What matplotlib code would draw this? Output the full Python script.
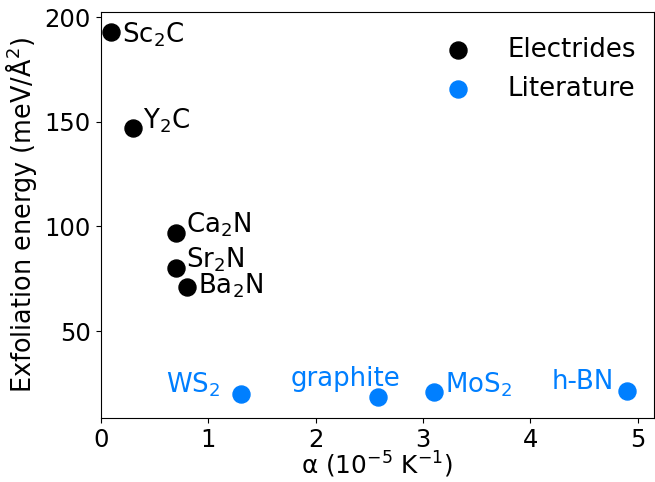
import numpy as np
import matplotlib
matplotlib.use("Agg")
import matplotlib.pyplot as plt

# Data
electride_names = ["Sc$_2$C", "Y$_2$C", "Ca$_2$N", "Sr$_2$N", "Ba$_2$N"]
electride_alpha = [0.10, 0.30, 0.70, 0.70, 0.80]
electride_energy = [192.9, 147.0, 96.7, 80.3, 70.9]

lit_names = ["WS$_2$", "graphite", "MoS$_2$", "h-BN"]
lit_alpha = [1.31, 2.58, 3.10, 4.90]
lit_energy = [19.9, 18.3, 20.7, 21.3]

blue = "#007FFF"
fs_tick = 17.5
fs_text = 18.7
fs_label = 18.4

# label offsets in points (dx, dy) and alignment
el_offsets = [(7.5, -7.5), (7, 0), (7.5, 0.5), (7.5, 0), (8, -4.5)]
lit_offsets = [(-15, 1), (16.3, 8), (8, 0), (-9.5, 1.2)]
lit_ha = ["right", "right", "left", "right"]

fig = plt.figure(figsize=(6.55, 4.82), dpi=100)
ax = fig.add_axes([100.7 / 655, 1 - 418.3 / 482, (654 - 100.7) / 655, (418.3 - 12.3) / 482])

ax.scatter(electride_alpha, electride_energy, s=150, color="black", label="Electrides", zorder=3)
ax.scatter(lit_alpha, lit_energy, s=150, color=blue, label="Literature", zorder=3)

for name, x, y, off in zip(electride_names, electride_alpha, electride_energy, el_offsets):
    ax.annotate(name, (x, y), xytext=off, textcoords="offset points",
                fontsize=fs_text, color="black", ha="left", va="baseline")

for name, x, y, off, ha in zip(lit_names, lit_alpha, lit_energy, lit_offsets, lit_ha):
    ax.annotate(name, (x, y), xytext=off, textcoords="offset points",
                fontsize=fs_text, color=blue, ha=ha, va="baseline")

ax.set_xlim(0, 5.15)
ax.set_ylim(8.3, 202.4)
ax.set_xticks([0, 1, 2, 3, 4, 5])
ax.set_yticks([50, 100, 150, 200])
ax.tick_params(labelsize=fs_tick)

ax.set_xlabel("α (10$^{-5}$ K$^{-1}$)", fontsize=17.8, labelpad=-1.5)
ax.set_ylabel("Exfoliation energy (meV/Å$^2$)", fontsize=fs_label)

ax.legend(loc="upper right", bbox_to_anchor=(1, 0.985), frameon=False, fontsize=fs_text,
          scatterpoints=1, handletextpad=0.88, labelspacing=0.5, borderaxespad=0.3)

fig.savefig("out.png", dpi=100)
